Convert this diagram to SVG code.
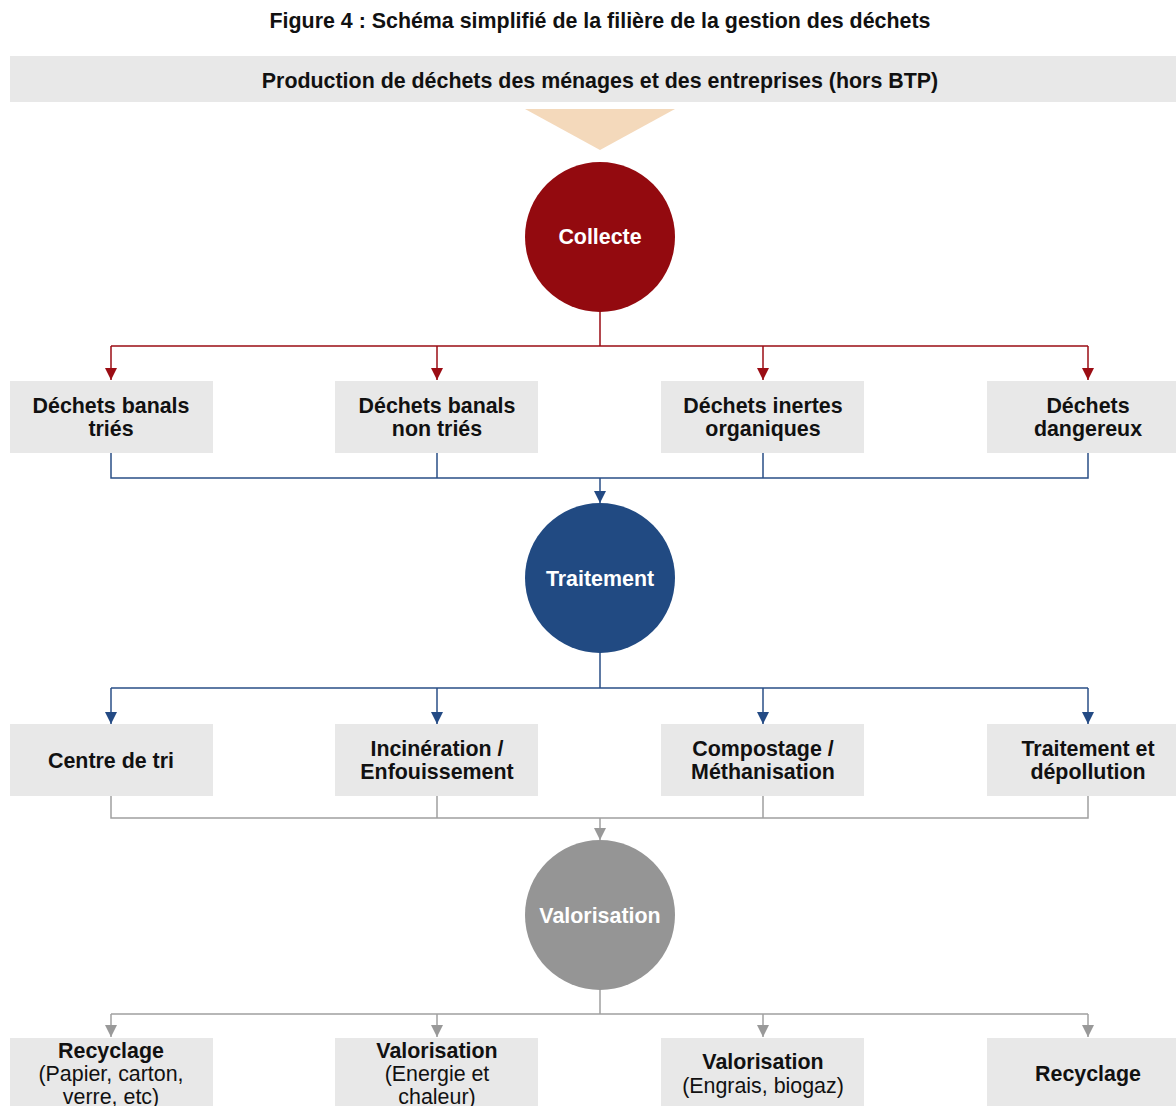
<svg xmlns="http://www.w3.org/2000/svg" width="1176" height="1106" viewBox="0 0 1176 1106">
<style>
text{font-family:"Liberation Sans",Arial,sans-serif;font-size:21.4px;text-anchor:middle;fill:#111111}
.b{font-weight:bold}
.w{fill:#ffffff;font-weight:bold}
.box{fill:#e8e8e8}
.red{stroke:#9b0d14;stroke-width:1.5;fill:none}
.blue{stroke:#2a4f87;stroke-width:1.5;fill:none}
.gray{stroke:#a0a0a0;stroke-width:1.5;fill:none}
</style>
<defs>
<marker id="ar" viewBox="0 0 12 12" refX="12" refY="6" markerWidth="12" markerHeight="12" markerUnits="userSpaceOnUse" orient="auto"><path d="M0,0 L12,6 L0,12 Z" fill="#9b0d14"/></marker>
<marker id="ab" viewBox="0 0 12 12" refX="12" refY="6" markerWidth="12" markerHeight="12" markerUnits="userSpaceOnUse" orient="auto"><path d="M0,0 L12,6 L0,12 Z" fill="#234a84"/></marker>
<marker id="ag" viewBox="0 0 12 12" refX="12" refY="6" markerWidth="12" markerHeight="12" markerUnits="userSpaceOnUse" orient="auto"><path d="M0,0 L12,6 L0,12 Z" fill="#999999"/></marker>
</defs>
<rect width="1176" height="1106" fill="#ffffff"/>
<text class="b" x="600" y="28">Figure 4 : Schéma simplifié de la filière de la gestion des déchets</text>
<g id="production">
<rect class="box" x="10" y="56" width="1166" height="46"/>
<text class="b" x="600" y="88">Production de déchets des ménages et des entreprises (hors BTP)</text>
</g>
<g id="entonnoir"><polygon points="525,109 675,109 600,150" fill="#f4d9bb"/></g>
<g id="connectors">
<path class="red" d="M600,312 V346 M111,346 H1088"/>
<path class="red" d="M111,346 V380" marker-end="url(#ar)"/>
<path class="red" d="M437,346 V380" marker-end="url(#ar)"/>
<path class="red" d="M763,346 V380" marker-end="url(#ar)"/>
<path class="red" d="M1088,346 V380" marker-end="url(#ar)"/>
<path class="blue" d="M111,453 V478 H1088 V453 M437,453 V478 M763,453 V478"/>
<path class="blue" d="M600,478 V503" marker-end="url(#ab)"/>
<path class="blue" d="M600,653 V688 M111,688 H1088"/>
<path class="blue" d="M111,688 V724" marker-end="url(#ab)"/>
<path class="blue" d="M437,688 V724" marker-end="url(#ab)"/>
<path class="blue" d="M763,688 V724" marker-end="url(#ab)"/>
<path class="blue" d="M1088,688 V724" marker-end="url(#ab)"/>
<path class="gray" d="M111,796 V818 H1088 V796 M437,796 V818 M763,796 V818"/>
<path class="gray" d="M600,818 V840" marker-end="url(#ag)"/>
<path class="gray" d="M600,990 V1014 M111,1014 H1088"/>
<path class="gray" d="M111,1014 V1037" marker-end="url(#ag)"/>
<path class="gray" d="M437,1014 V1037" marker-end="url(#ag)"/>
<path class="gray" d="M763,1014 V1037" marker-end="url(#ag)"/>
<path class="gray" d="M1088,1014 V1037" marker-end="url(#ag)"/>
</g>
<g id="collecte"><circle cx="600" cy="237" r="75" fill="#930a0f"/><text class="w" x="600" y="244">Collecte</text></g>
<g id="traitement"><circle cx="600" cy="578" r="75" fill="#214a82"/><text class="w" x="600" y="586">Traitement</text></g>
<g id="valorisation"><circle cx="600" cy="915" r="75" fill="#959595"/><text class="w" x="600" y="923">Valorisation</text></g>
<g id="d1"><rect class="box" x="10" y="381" width="203" height="72"/><text class="b" x="111" y="413">Déchets banals</text><text class="b" x="111" y="436">triés</text></g>
<g id="d2"><rect class="box" x="335" y="381" width="203" height="72"/><text class="b" x="437" y="413">Déchets banals</text><text class="b" x="437" y="436">non triés</text></g>
<g id="d3"><rect class="box" x="661" y="381" width="203" height="72"/><text class="b" x="763" y="413">Déchets inertes</text><text class="b" x="763" y="436">organiques</text></g>
<g id="d4"><rect class="box" x="987" y="381" width="203" height="72"/><text class="b" x="1088" y="413">Déchets</text><text class="b" x="1088" y="436">dangereux</text></g>
<g id="t1"><rect class="box" x="10" y="724" width="203" height="72"/><text class="b" x="111" y="768">Centre de tri</text></g>
<g id="t2"><rect class="box" x="335" y="724" width="203" height="72"/><text class="b" x="437" y="756">Incinération /</text><text class="b" x="437" y="779">Enfouissement</text></g>
<g id="t3"><rect class="box" x="661" y="724" width="203" height="72"/><text class="b" x="763" y="756">Compostage /</text><text class="b" x="763" y="779">Méthanisation</text></g>
<g id="t4"><rect class="box" x="987" y="724" width="203" height="72"/><text class="b" x="1088" y="756">Traitement et</text><text class="b" x="1088" y="779">dépollution</text></g>
<g id="v1"><rect class="box" x="10" y="1038" width="203" height="72"/><text class="b" x="111" y="1058">Recyclage</text><text x="111" y="1081">(Papier, carton,</text><text x="111" y="1104">verre, etc)</text></g>
<g id="v2"><rect class="box" x="335" y="1038" width="203" height="72"/><text class="b" x="437" y="1058">Valorisation</text><text x="437" y="1081">(Energie et</text><text x="437" y="1104">chaleur)</text></g>
<g id="v3"><rect class="box" x="661" y="1038" width="203" height="72"/><text class="b" x="763" y="1069">Valorisation</text><text x="763" y="1093">(Engrais, biogaz)</text></g>
<g id="v4"><rect class="box" x="987" y="1038" width="203" height="72"/><text class="b" x="1088" y="1081">Recyclage</text></g>
</svg>
